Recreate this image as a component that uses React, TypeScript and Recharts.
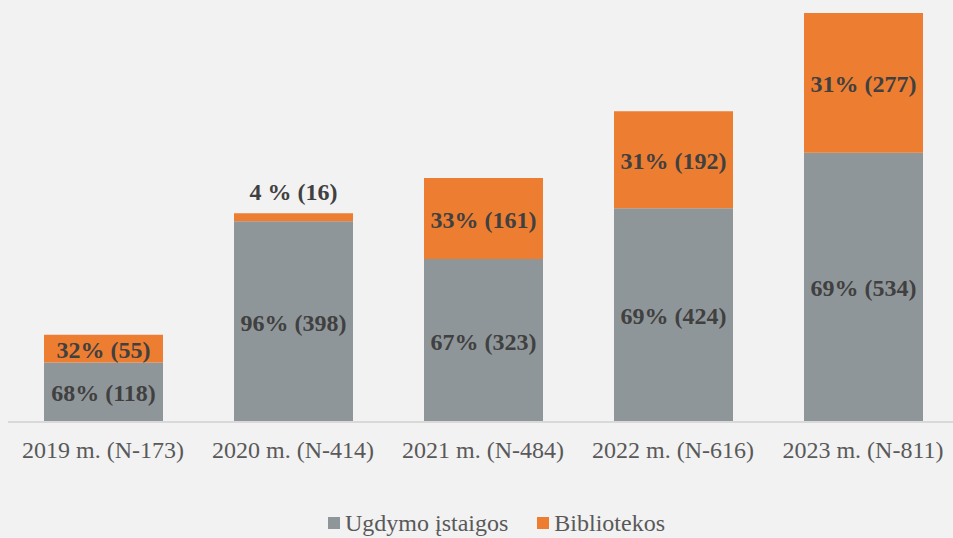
import { BarChart, Bar, XAxis, YAxis, LabelList, Legend } from 'recharts'

const years = ['2019 m. (N-173)', '2020 m. (N-414)', '2021 m. (N-484)', '2022 m. (N-616)', '2023 m. (N-811)']
const ugdymo = [118, 398, 323, 424, 534]
const ugdymoPct = ['68%', '96%', '67%', '69%', '69%']
const bibliotekos = [55, 16, 161, 192, 277]
const bibliotekosPct = ['32%', '4 %', '33%', '31%', '31%']

const GRAY = '#8f9699'
const ORANGE = '#ed7d31'
const FONT = '"Liberation Serif", "Times New Roman", serif'

const data = years.map((year, i) => ({
  year,
  ugdymo: ugdymo[i],
  bibliotekos: bibliotekos[i],
  ugdymoLabel: `${ugdymoPct[i]} (${ugdymo[i]})`,
  bibliotekosLabel: `${bibliotekosPct[i]} (${bibliotekos[i]})`,
}))

function SegmentLabel(props: any) {
  const { x, y, width, height, value } = props
  const small = height < 24
  const cy = small ? y - 21 : y + height / 2 + 1
  return (
    <text
      x={x + width / 2}
      y={cy}
      textAnchor="middle"
      dominantBaseline="central"
      fill="#404040"
      fontFamily={FONT}
      fontWeight="bold"
      fontSize={24}
    >
      {value}
    </text>
  )
}

function LegendContent() {
  const items = [
    { name: 'Ugdymo įstaigos', color: GRAY },
    { name: 'Bibliotekos', color: ORANGE },
  ]
  return (
    <div style={{ display: 'flex', justifyContent: 'center', gap: 29, fontFamily: FONT, fontSize: 24, lineHeight: '26px', color: '#595959' }}>
      {items.map((it) => (
        <div key={it.name} style={{ display: 'flex', alignItems: 'center' }}>
          <span style={{ display: 'inline-block', width: 12, height: 12, background: it.color, marginRight: 5 }} />
          {it.name}
        </div>
      ))}
    </div>
  )
}

export default function App() {
  return (
    <div style={{ width: 953, height: 538, overflow: 'hidden', background: '#f2f2f2', position: 'relative' }}>
      <style>{'html, body { margin: 0; padding: 0; background: #f2f2f2; overflow: hidden; }'}</style>
      <BarChart
        width={960}
        height={538}
        data={data}
        margin={{ top: 13, right: 2, left: 8, bottom: 18 }}
        barSize={119}
      >
        <YAxis hide domain={[0, 811]} />
        <XAxis
          dataKey="year"
          axisLine={{ stroke: '#d9d9d9', strokeWidth: 2 }}
          tickLine={false}
          tick={{ fill: '#595959', fontFamily: FONT, fontSize: 24 }}
          tickMargin={13}
          height={70}
        />
        <Legend
          verticalAlign="bottom"
          content={<LegendContent />}
          wrapperStyle={{ left: 40, width: 913, top: 510, height: 28 }}
        />
        <Bar dataKey="ugdymo" stackId="a" fill={GRAY} isAnimationActive={false}>
          <LabelList dataKey="ugdymoLabel" content={<SegmentLabel />} />
        </Bar>
        <Bar dataKey="bibliotekos" stackId="a" fill={ORANGE} isAnimationActive={false}>
          <LabelList dataKey="bibliotekosLabel" content={<SegmentLabel />} />
        </Bar>
      </BarChart>
    </div>
  )
}
